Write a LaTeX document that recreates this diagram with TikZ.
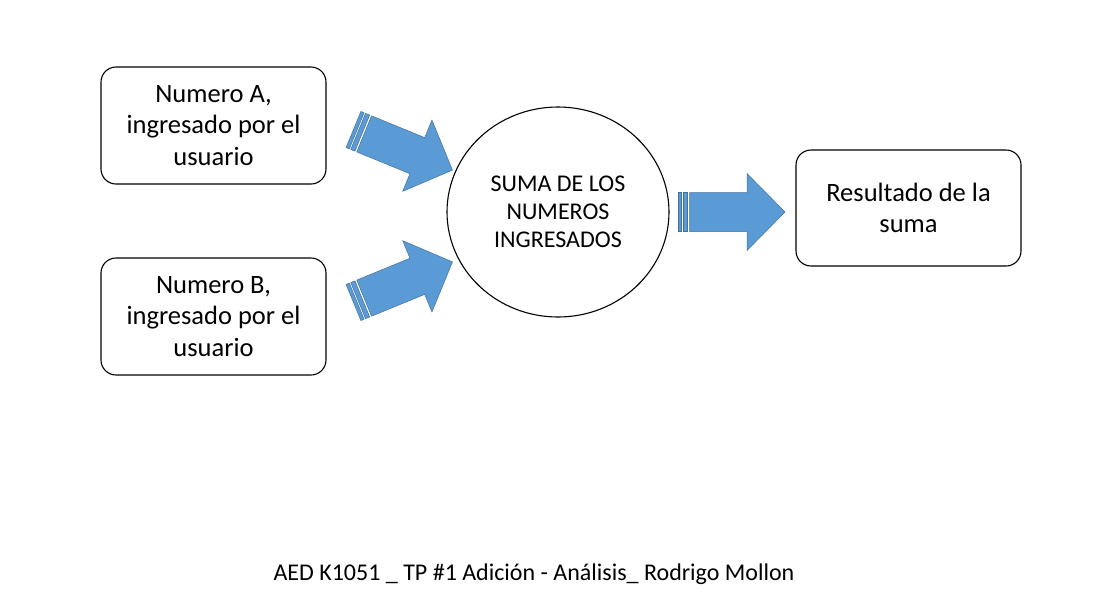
\documentclass[tikz,border=0pt]{standalone}
\usepackage{fontspec}
\setmainfont{Carlito}
\usetikzlibrary{shapes.geometric}
\definecolor{arrfill}{HTML}{5B9BD5}
\definecolor{arrline}{HTML}{41719C}
\tikzset{
  procbox/.style={draw=black, line width=1.1pt, rounded corners=15pt, minimum width=225pt, minimum height=117pt, align=center, inner sep=0pt, font=\fontsize{26.5}{31.5}\selectfont},
  procell/.style={draw=black, line width=1.1pt, ellipse, minimum width=222pt, minimum height=210pt, align=center, inner sep=0pt, font=\fontsize{24}{28}\selectfont},
  arrpart/.style={fill=arrfill, draw=arrline, line width=0.5pt, line join=miter},
  footer/.style={font=\fontsize{24}{26}\selectfont, inner sep=0pt}
}
\newcommand\mystripedarrow[3]{%
  \begin{scope}[shift={(#1,#2)}, rotate=#3]
    \filldraw[arrpart] (0,-19.5) rectangle (3.5,19.5);
    \filldraw[arrpart] (5,-19.5) rectangle (9.5,19.5);
    \filldraw[arrpart] (11.5,-19.5) -- (69,-19.5) -- (69,-38.5) -- (107,0) -- (69,38.5) -- (69,19.5) -- (11.5,19.5) -- cycle;
  \end{scope}}
\begin{document}
\begin{tikzpicture}[x=1pt,y=-1pt]
  \fill[white] (0,0) rectangle (1109,595);
  \useasboundingbox (0,0) rectangle (1109,595);
  \node[procbox] (numa) at (213.5,125.5) {Numero A,\\ingresado por el\\usuario};
  \node[procbox] (numb) at (213.5,316.5) {Numero B,\\ingresado por el\\usuario};
  \node[procell] (suma) at (558,212) {SUMA DE LOS\\NUMEROS\\INGRESADOS};
  \node[procbox, minimum height=116pt] (res) at (908.5,208) {Resultado de la\\suma};
  \mystripedarrow{353.5}{129.5}{-22.3}
  \mystripedarrow{353.5}{302.5}{22.3}
  \mystripedarrow{678}{212}{0}
  \node[footer] (foot) at (534,574) {AED K1051 \_ TP \#1 Adición - Análisis\_ Rodrigo Mollon};
\end{tikzpicture}
\end{document}
